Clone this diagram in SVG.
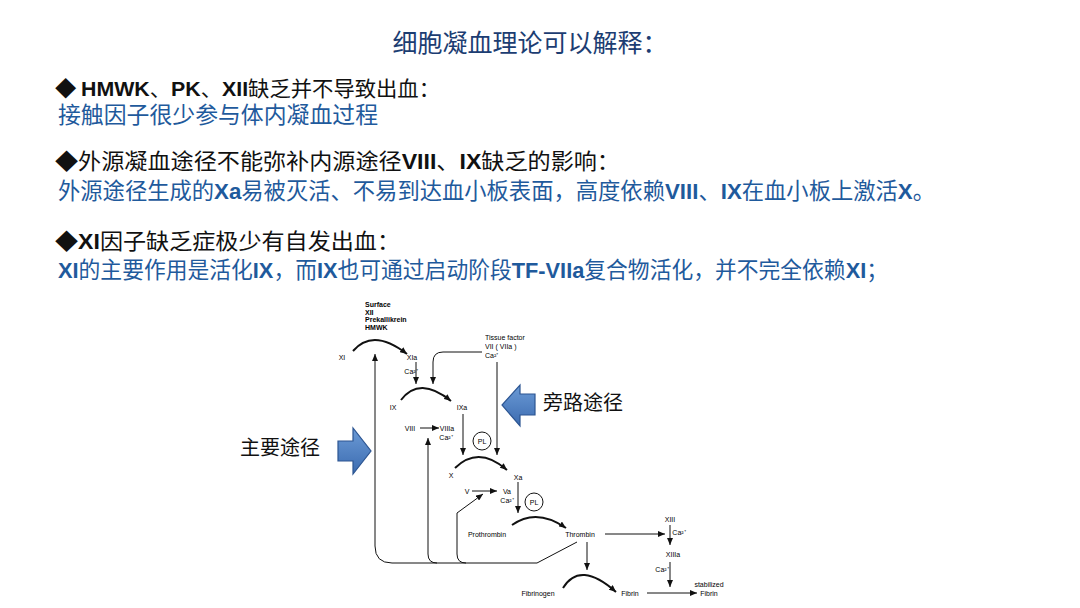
<svg xmlns="http://www.w3.org/2000/svg" width="1080" height="608" viewBox="0 0 1080 608">
<defs>
<marker id="ah" markerUnits="userSpaceOnUse" markerWidth="8" markerHeight="6" refX="7" refY="3" orient="auto">
<path d="M0,0 L7,3 L0,6 z" fill="#111"/>
</marker>
<linearGradient id="bg" x1="0" y1="0" x2="0" y2="1">
<stop offset="0" stop-color="#6c9bd6"/>
<stop offset="1" stop-color="#3b6bb0"/>
</linearGradient>
<style>
.cn{font-family:"Noto Sans CJK SC","Liberation Sans",sans-serif;}
.lat{font-family:"Liberation Sans",Arial,sans-serif;font-weight:bold;}
.blk{fill:#111;}
.blu{fill:#1f5a9c;}
.nd{opacity:0.99;}
.lb{font-family:"Liberation Sans",Arial,sans-serif;font-size:7px;fill:#000;text-anchor:middle;}
.ll{font-family:"Liberation Sans",Arial,sans-serif;font-size:7px;fill:#000;}
.ln{fill:none;stroke:#111;stroke-width:1;}
.arc{fill:none;stroke:#111;stroke-width:2;}
.barrow{fill:url(#bg);stroke:#2c5592;stroke-width:1.2;}
.side{font-family:"Noto Sans CJK SC",sans-serif;font-size:20px;fill:#111;}
</style>
</defs>
<rect width="1080" height="608" fill="#fff"/>

<g id="title">
<text x="530" y="52" text-anchor="middle" class="cn" font-size="25" fill="#1c3d72">细胞凝血理论可以解释：</text>
</g>

<g id="text-block">
<text x="55" y="96" class="cn blk" font-size="21" textLength="385" lengthAdjust="spacingAndGlyphs">◆ <tspan class="lat">HMWK</tspan>、<tspan class="lat">PK</tspan>、<tspan class="lat">XII</tspan>缺乏并不导致出血：</text>
<text x="58" y="123" class="cn blu" font-size="22.8" textLength="320" lengthAdjust="spacingAndGlyphs">接触因子很少参与体内凝血过程</text>
<text x="55" y="169" class="cn blk" font-size="22" textLength="565" lengthAdjust="spacingAndGlyphs">◆外源凝血途径不能弥补内源途径<tspan class="lat">VIII</tspan>、<tspan class="lat">IX</tspan>缺乏的影响：</text>
<text x="58" y="199" class="cn blu" font-size="22.4" textLength="877" lengthAdjust="spacingAndGlyphs">外源途径生成的<tspan class="lat">Xa</tspan>易被灭活、不易到达血小板表面，高度依赖<tspan class="lat">VIII</tspan>、<tspan class="lat">IX</tspan>在血小板上激活<tspan class="lat">X</tspan>。</text>
<text x="55" y="249" class="cn blk" font-size="22" textLength="345" lengthAdjust="spacingAndGlyphs">◆<tspan class="lat">XI</tspan>因子缺乏症极少有自发出血：</text>
<text x="58" y="278" class="cn blu" font-size="22.3" textLength="830" lengthAdjust="spacingAndGlyphs"><tspan class="lat">XI</tspan>的主要作用是活化<tspan class="lat">IX</tspan>，而<tspan class="lat">IX</tspan>也可通过启动阶段<tspan class="lat">TF-VIIa</tspan>复合物活化，并不完全依赖<tspan class="lat">XI</tspan>；</text>
</g>

<g id="connectors">
<path class="arc" d="M353,351 Q373,327.5 407,354" marker-end="url(#ah)"/>
<path class="ln" d="M416,362 L416,384" marker-end="url(#ah)"/>
<path class="ln" d="M482,352 L443,352 Q433,352 433,362 L433,384" marker-end="url(#ah)"/>
<path class="ln" d="M497,362 L497,455" marker-end="url(#ah)"/>
<path class="arc" d="M401,400 Q419.5,375.5 451,401" marker-end="url(#ah)"/>
<path class="ln" d="M463,414 L463,455" marker-end="url(#ah)"/>
<path class="ln" d="M420,428 L439,428" marker-end="url(#ah)"/>
<path class="ln" d="M577,542 L537,563 L392,563 Q375,563 375,546 L375,354" marker-end="url(#ah)"/>
<path class="ln" d="M437,563 Q428,563 428,554 L428,438" marker-end="url(#ah)"/>
<path class="ln" d="M466,563 Q457,563 457,554 L457,513 L483,494" marker-end="url(#ah)"/>
<path class="arc" d="M455,468 Q478.5,445 507,470" marker-end="url(#ah)"/>
<path class="ln" d="M472,491 L497,491" marker-end="url(#ah)"/>
<path class="ln" d="M518,482 L518,513" marker-end="url(#ah)"/>
<path class="arc" d="M512,525 Q536.5,507.5 566,528" marker-end="url(#ah)"/>
<path class="ln" d="M605,534 L665,534" marker-end="url(#ah)"/>
<path class="ln" d="M670,525 L670,545" marker-end="url(#ah)"/>
<path class="ln" d="M670,562 L670,587" marker-end="url(#ah)"/>
<path class="ln" d="M587,542 L587,570" marker-end="url(#ah)"/>
<path class="arc" d="M563,588 Q580,560 616,592" marker-end="url(#ah)"/>
<path class="ln" d="M647,593 L697,593" stroke-width="1.6" marker-end="url(#ah)"/>
</g>

<g id="surface" class="nd">
<text class="ll" x="365" y="307" font-weight="bold" font-size="6">Surface</text>
<text class="ll" x="365" y="315" font-weight="bold" font-size="6">XII</text>
<text class="ll" x="365" y="322" font-weight="bold" font-size="6">Prekallikrein</text>
<text class="ll" x="365" y="330" font-weight="bold" font-size="6">HMWK</text>
</g>
<g id="n-XI" class="nd"><text class="lb" x="342" y="359.5">XI</text></g>
<g id="n-XIa" class="nd"><text class="lb" x="412" y="359.5">XIa</text><text class="lb" x="411" y="374" font-size="5.5">Ca²⁺</text></g>
<g id="n-TF" class="nd">
<text class="ll" x="485" y="340">Tissue factor</text>
<text class="ll" x="485" y="349">VII ( VIIa )</text>
<text class="ll" x="485" y="357.5" font-size="5.5">Ca²⁺</text>
</g>
<g id="n-IX" class="nd"><text class="lb" x="393" y="409.5">IX</text></g>
<g id="n-IXa" class="nd"><text class="lb" x="462" y="409.5">IXa</text></g>
<g id="n-VIII" class="nd"><text class="lb" x="410" y="430.5">VIII</text></g>
<g id="n-VIIIa" class="nd"><text class="lb" x="447" y="430.5">VIIIa</text><text class="lb" x="446" y="439.5" font-size="5.5">Ca²⁺</text></g>
<g id="n-PL1" class="nd"><circle cx="482" cy="441" r="9" fill="none" stroke="#111" stroke-width="1"/><text class="lb" x="482" y="443.5" font-size="6.5">PL</text></g>
<g id="n-X" class="nd"><text class="lb" x="451" y="477.5">X</text></g>
<g id="n-Xa" class="nd"><text class="lb" x="518" y="479.5">Xa</text></g>
<g id="n-V" class="nd"><text class="lb" x="467" y="493.5">V</text></g>
<g id="n-Va" class="nd"><text class="lb" x="507" y="493.5">Va</text><text class="lb" x="507" y="503" font-size="5.5">Ca²⁺</text></g>
<g id="n-PL2" class="nd"><circle cx="534" cy="502" r="9" fill="none" stroke="#111" stroke-width="1"/><text class="lb" x="534" y="504.5" font-size="6.5">PL</text></g>
<g id="n-Prothrombin" class="nd"><text class="lb" x="487" y="536.5">Prothrombin</text></g>
<g id="n-Thrombin" class="nd"><text class="lb" x="580" y="536.5">Thrombin</text></g>
<g id="n-XIII" class="nd"><text class="lb" x="670" y="521.5">XIII</text><text class="lb" x="679" y="535" font-size="5.5">Ca²⁺</text></g>
<g id="n-XIIIa" class="nd"><text class="lb" x="673" y="556.5">XIIIa</text><text class="lb" x="662" y="572" font-size="5.5">Ca²⁺</text></g>
<g id="n-Fibrinogen" class="nd"><text class="lb" x="538" y="595.5">Fibrinogen</text></g>
<g id="n-Fibrin" class="nd"><text class="lb" x="630" y="595.5">Fibrin</text></g>
<g id="n-sFibrin" class="nd"><text class="lb" x="709" y="587" font-size="3.5">stabilized</text><text class="lb" x="709" y="595.5">Fibrin</text></g>

<g id="main-pathway">
<polygon class="barrow" points="338,441 353,441 353,428 371,451 353,474 353,461 338,461"/>
<text class="side" x="240" y="455">主要途径</text>
</g>
<g id="bypass-pathway">
<polygon class="barrow" points="535,394 520,394 520,385 502,405 520,426 520,415 535,415"/>
<text class="side" x="543" y="410">旁路途径</text>
</g>
</svg>
